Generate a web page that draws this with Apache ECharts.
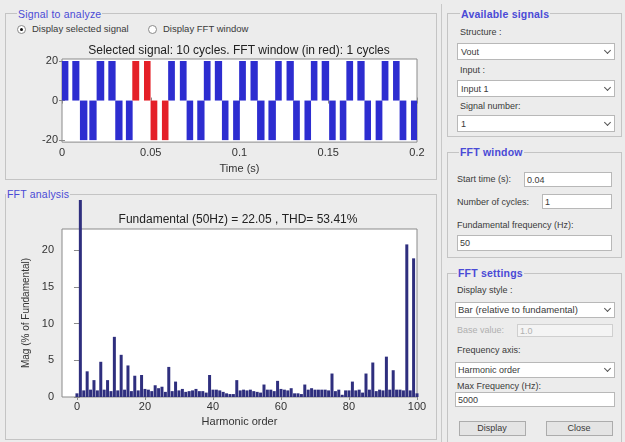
<!DOCTYPE html>
<html><head><meta charset="utf-8">
<script src="https://cdn.jsdelivr.net/npm/echarts@6/dist/echarts.min.js"></script>
<style>
html,body{margin:0;padding:0;width:625px;height:442px;overflow:hidden;background:#ececec;font-family:"Liberation Sans",Arial,sans-serif;}
.panel{position:absolute;border:1px solid #c4c4c4;box-sizing:border-box;}
.t{position:absolute;white-space:nowrap;line-height:1;transform:translateY(-50%);color:#3a3a3a;font-size:9px;}
.pt{color:#4a4ad6;background:#ececec;padding:0 1px;font-size:10.5px;letter-spacing:0.2px;}
.b{font-weight:bold;}
.r{font-size:9.5px;}
.box{position:absolute;background:#fff;border:1px solid #b8b8b8;box-sizing:border-box;}
.arrow{position:absolute;width:4px;height:4px;border-right:1.3px solid #555;border-bottom:1.3px solid #555;transform:rotate(45deg);}
.btn{position:absolute;background:#e4e4e4;border:1px solid #acacac;box-sizing:border-box;}
.rad{position:absolute;width:9px;height:9px;border-radius:50%;border:1px solid #8a8a8a;background:#fff;box-sizing:border-box;}
.dot{position:absolute;left:2px;top:2px;width:3px;height:3px;border-radius:50%;background:#111;}
#sig{position:absolute;left:5px;top:36px;width:432px;height:143px;}
#fft{position:absolute;left:5px;top:200px;width:432px;height:238px;}
</style></head>
<body>
<div class="panel" style="left:5px;top:13px;width:432px;height:167px;"></div>
<div class="panel" style="left:5px;top:194px;width:432px;height:246px;"></div>
<div style="position:absolute;left:441px;top:4px;width:1px;height:438px;background:#c8c8c8;"></div>
<div class="panel" style="left:447px;top:13px;width:175px;height:124px;"></div>
<div class="panel" style="left:447px;top:152px;width:175px;height:106px;"></div>
<div class="panel" style="left:447px;top:273px;width:175px;height:172px;"></div>

<div id="sig"></div>
<div id="fft"></div>

<span class="t pt" style="left:17px;top:14px;">Signal to analyze</span>
<div class="rad" style="left:17px;top:25px;"><div class="dot"></div></div>
<span class="t r" style="left:32px;top:29px;">Display selected signal</span>
<div class="rad" style="left:148px;top:25px;"></div>
<span class="t r" style="left:163px;top:29px;">Display FFT window</span>
<span class="t pt" style="left:6px;top:194px;">FFT analysis</span>

<span class="t pt b" style="left:460px;top:14px;">Available signals</span>
<span class="t" style="left:460px;top:32px;">Structure :</span>
<div class="box" style="left:457px;top:43px;width:158px;height:17px;"></div>
<span class="t" style="left:461px;top:52px;">Vout</span>
<div class="arrow" style="left:605px;top:48px;"></div>
<span class="t" style="left:460px;top:70px;">Input :</span>
<div class="box" style="left:457px;top:80px;width:158px;height:17px;"></div>
<span class="t" style="left:461px;top:89px;">Input 1</span>
<div class="arrow" style="left:605px;top:85px;"></div>
<span class="t" style="left:460px;top:106px;">Signal number:</span>
<div class="box" style="left:457px;top:115px;width:158px;height:17px;"></div>
<span class="t" style="left:461px;top:124px;">1</span>
<div class="arrow" style="left:605px;top:120px;"></div>

<span class="t pt b" style="left:459px;top:152px;">FFT window</span>
<span class="t" style="left:457px;top:179px;">Start time (s):</span>
<div class="box" style="left:524px;top:172px;width:88px;height:15px;"></div>
<span class="t" style="left:527px;top:180px;">0.04</span>
<span class="t" style="left:457px;top:202px;">Number of cycles:</span>
<div class="box" style="left:542px;top:194px;width:70px;height:15px;"></div>
<span class="t" style="left:545px;top:202px;">1</span>
<span class="t" style="left:457px;top:225px;">Fundamental frequency (Hz):</span>
<div class="box" style="left:457px;top:235px;width:155px;height:16px;"></div>
<span class="t" style="left:460px;top:243px;">50</span>

<span class="t pt b" style="left:457px;top:273px;">FFT settings</span>
<span class="t" style="left:457px;top:290px;">Display style :</span>
<div class="box" style="left:455px;top:302px;width:160px;height:16px;"></div>
<span class="t r" style="left:458px;top:310px;">Bar (relative to fundamental)</span>
<div class="arrow" style="left:605px;top:306px;"></div>
<span class="t" style="left:457px;top:330px;color:#b0b0b0;">Base value:</span>
<div class="box" style="left:517px;top:324px;width:96px;height:13px;background:#f4f4f4;border-color:#cfcfcf;"></div>
<span class="t" style="left:520px;top:331px;color:#b0b0b0;">1.0</span>
<span class="t" style="left:457px;top:350px;">Frequency axis:</span>
<div class="box" style="left:455px;top:362px;width:160px;height:16px;"></div>
<span class="t" style="left:458px;top:370px;">Harmonic order</span>
<div class="arrow" style="left:605px;top:366px;"></div>
<span class="t" style="left:457px;top:386px;">Max Frequency (Hz):</span>
<div class="box" style="left:455px;top:392px;width:160px;height:15px;"></div>
<span class="t" style="left:458px;top:400px;">5000</span>
<div class="btn" style="left:459px;top:421px;width:67px;height:15px;"></div>
<span class="t" style="left:492px;top:428px;transform:translate(-50%,-50%);">Display</span>
<div class="btn" style="left:546px;top:421px;width:67px;height:15px;"></div>
<span class="t" style="left:579px;top:428px;transform:translate(-50%,-50%);">Close</span>

<script>
// ---- Signal to analyze (time domain) ----
const timeTicks = [0, 0.05, 0.1, 0.15, 0.2];
const ampTicks = [-20, 0, 20];
const pulseLevel = 20;
// positive pulses: start / end times (s)
const posStart = [0.0000,0.0058,0.0195,0.0261,0.0396,0.0462,0.0598,0.0664,0.0799,0.0861,
                  0.0998,0.1062,0.1201,0.1265,0.1402,0.1463,0.1602,0.1664,0.1801,0.1865];
const posEnd   = [0.0036,0.0098,0.0238,0.0302,0.0435,0.0499,0.0636,0.0702,0.0837,0.0902,
                  0.1036,0.1103,0.1238,0.1306,0.1439,0.1505,0.1640,0.1705,0.1839,0.1902];
// negative pulses: start / end times (s)
const negStart = [0.0101,0.0154,0.0300,0.0360,0.0499,0.0563,0.0702,0.0762,0.0901,0.0964,
                  0.1099,0.1163,0.1302,0.1366,0.1505,0.1565,0.1704,0.1767,0.1902,0.1966];
const negEnd   = [0.0143,0.0195,0.0341,0.0398,0.0537,0.0600,0.0739,0.0803,0.0938,0.1002,
                  0.1141,0.1205,0.1340,0.1403,0.1542,0.1602,0.1741,0.1805,0.1940,0.2000];
const fftStartTime = 0.04;
const fftCycles = 1;
const fundamentalHz = 50;
const totalCycles = 10;

// ---- FFT analysis ----
const harmonicTicks = [0, 20, 40, 60, 80, 100];
const magTicks = [0, 5, 10, 15, 20];
const fundamentalMag = 22.05;
const thdPercent = 53.41;
// magnitude (% of fundamental) for harmonic orders 0..100
const magnitudes = [
  0.5, 100, 0.9, 3.5, 1.0, 2.3, 0.9, 4.8, 1.0, 2.3,   // 0-9
  0.8, 8.2, 0.9, 5.75,1.0, 4.3, 0.8, 2.9, 0.9, 3.0,   // 10-19
  1.1, 1.0, 0.8, 1.6, 1.2, 1.4, 0.7, 4.1, 0.8, 2.1,   // 20-29
  0.9, 1.1, 0.7, 0.8, 0.9, 1.1, 0.8, 0.8, 0.6, 3.0,   // 30-39
  1.0, 1.0, 0.9, 0.7, 0.5, 0.4, 0.4, 2.3, 0.9, 1.0,   // 40-49
  0.9, 1.0, 0.8, 0.7, 0.6, 1.7, 1.0, 1.0, 0.8, 2.2,   // 50-59
  1.1, 1.0, 0.9, 1.2, 0.5, 0.5, 0.4, 1.7, 1.0, 1.2,   // 60-69
  1.0, 1.0, 1.0, 1.0, 0.9, 3.2, 0.8, 1.0, 0.3, 0.9,   // 70-79
  0.9, 2.1, 0.9, 1.0, 0.6, 3.2, 1.0, 4.7, 0.8, 1.0,   // 80-89
  0.9, 5.5, 1.0, 3.65,1.0, 1.0, 0.9, 20.8,0.9, 18.9,  // 90-99
  0.5                                                  // 100
];

const FONT = '"Liberation Sans", Arial, sans-serif';
const frameColor = '#8a8a8a';
const txt = '#333';

const winEnd = fftStartTime + fftCycles / fundamentalHz;
const bluePulses = [], redPulses = [];
function addPulses(starts, ends, level) {
  for (let i = 0; i < starts.length; i++) {
    const mid = (starts[i] + ends[i]) / 2;
    const item = [starts[i], ends[i], level];
    (mid >= fftStartTime && mid <= winEnd ? redPulses : bluePulses).push(item);
  }
}
addPulses(posStart, posEnd, pulseLevel);
addPulses(negStart, negEnd, -pulseLevel);

function renderPulse(params, api) {
  const a = api.coord([api.value(0), 0]);
  const b = api.coord([api.value(1), api.value(2)]);
  return {
    type: 'rect',
    shape: { x: a[0], y: Math.min(a[1], b[1]), width: b[0] - a[0], height: Math.abs(b[1] - a[1]) },
    style: { fill: api.visual('color') }
  };
}

function frameAxes(xmin, xmax, xTicks, ymin, ymax, yTicks) {
  return {
    x2: { type: 'value', position: 'top', min: xmin, max: xmax, axisLine: { show: false },
      axisTick: { inside: true, length: 3, customValues: xTicks, lineStyle: { color: frameColor } },
      axisLabel: { show: false, customValues: xTicks }, splitLine: { show: false } },
    y2: { type: 'value', position: 'right', min: ymin, max: ymax, axisLine: { show: false },
      axisTick: { inside: true, length: 3, customValues: yTicks, lineStyle: { color: frameColor } },
      axisLabel: { show: false, customValues: yTicks }, splitLine: { show: false } }
  };
}

const f1 = frameAxes(0, 0.2, timeTicks, -21, 21, ampTicks);
const chart1 = echarts.init(document.getElementById('sig'));
chart1.setOption({
  animation: false,
  title: {
    text: 'Selected signal: ' + totalCycles + ' cycles. FFT window (in red): ' + fftCycles + ' cycles',
    left: 229, top: 4, textAlign: 'center',
    textStyle: { fontSize: 12, fontWeight: 'normal', color: '#222', fontFamily: FONT }
  },
  grid: { left: 57, top: 23, width: 355, height: 88, show: true, backgroundColor: '#fff',
          borderColor: frameColor, borderWidth: 1 },
  xAxis: [{
    type: 'value', min: timeTicks[0], max: timeTicks[timeTicks.length - 1],
    axisLine: { show: false }, splitLine: { show: false },
    axisTick: { inside: true, length: 3, customValues: timeTicks, lineStyle: { color: frameColor } },
    axisLabel: { customValues: timeTicks, margin: 5, fontSize: 11, color: txt, fontFamily: FONT },
    name: 'Time (s)', nameLocation: 'middle', nameGap: 18,
    nameTextStyle: { fontSize: 11, color: txt, fontFamily: FONT }
  }, f1.x2],
  yAxis: [{
    type: 'value', min: -21, max: 21, axisLine: { show: false }, splitLine: { show: false },
    axisTick: { inside: true, length: 3, customValues: ampTicks, lineStyle: { color: frameColor } },
    axisLabel: { customValues: ampTicks, margin: 4, fontSize: 11, color: txt, fontFamily: FONT }
  }, f1.y2],
  series: [
    { type: 'custom', renderItem: renderPulse, data: bluePulses, encode: { x: [0, 1], y: 2 },
      itemStyle: { color: '#2d2dd0' } },
    { type: 'custom', renderItem: renderPulse, data: redPulses, encode: { x: [0, 1], y: 2 },
      itemStyle: { color: '#e42028' } }
  ]
});

const xMinH = -4.4, xMaxH = 100, yMaxMag = 22.9;
const f2 = frameAxes(xMinH, xMaxH, harmonicTicks, 0, yMaxMag, magTicks);
const chart2 = echarts.init(document.getElementById('fft'));
chart2.setOption({
  animation: false,
  title: {
    text: 'Fundamental (' + fundamentalHz + 'Hz) = ' + fundamentalMag.toFixed(2) + ' , THD= ' + thdPercent.toFixed(2) + '%',
    left: 228, top: 9, textAlign: 'center',
    textStyle: { fontSize: 12, fontWeight: 'normal', color: '#222', fontFamily: FONT }
  },
  grid: { left: 57, top: 29, width: 355, height: 168, show: true, backgroundColor: '#fff',
          borderColor: frameColor, borderWidth: 1 },
  xAxis: [{
    type: 'value', min: xMinH, max: xMaxH, axisLine: { show: false }, splitLine: { show: false },
    axisTick: { inside: true, length: 3, customValues: harmonicTicks, lineStyle: { color: frameColor } },
    axisLabel: { customValues: harmonicTicks, margin: 4, fontSize: 11, color: txt, fontFamily: FONT },
    name: 'Harmonic order', nameLocation: 'middle', nameGap: 18,
    nameTextStyle: { fontSize: 11, color: txt, fontFamily: FONT }
  }, f2.x2],
  yAxis: [{
    type: 'value', min: 0, max: yMaxMag, axisLine: { show: false }, splitLine: { show: false },
    axisTick: { inside: true, length: 3, customValues: magTicks, lineStyle: { color: frameColor } },
    axisLabel: { customValues: magTicks, margin: 8, fontSize: 11, color: txt, fontFamily: FONT },
    name: 'Mag (% of Fundamental)', nameLocation: 'middle', nameGap: 23, nameRotate: 90,
    nameTextStyle: { fontSize: 10, color: txt, fontFamily: FONT }
  }, f2.y2],
  series: [{
    type: 'bar', data: magnitudes.map((v, i) => [i, v]), barWidth: 3, clip: false,
    itemStyle: { color: '#2f2f7e' }
  }]
});
</script>
</body></html>
